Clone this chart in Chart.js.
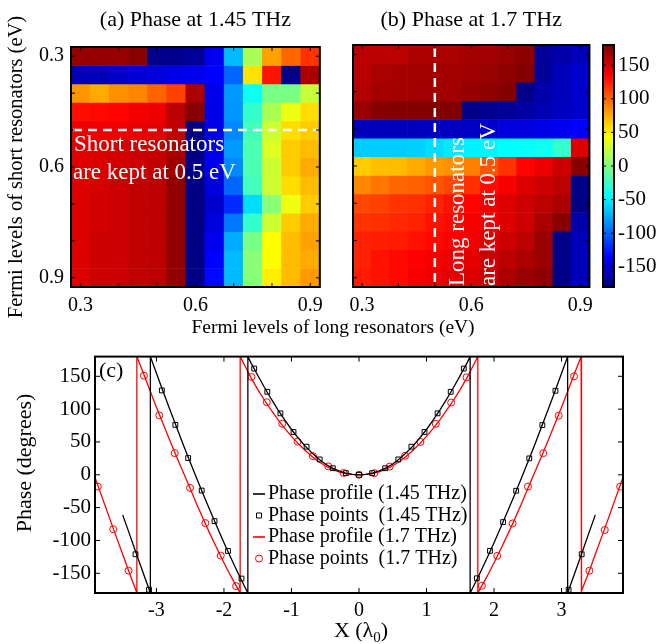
<!DOCTYPE html>
<html>
<head>
<meta charset="utf-8">
<script src="https://cdn.jsdelivr.net/npm/chart.js@4.4.1/dist/chart.umd.min.js"></script>
<style>
body{margin:0;background:#fff;width:662px;height:644px;position:relative;overflow:hidden;font-family:"Liberation Serif",serif}
canvas{position:absolute}
#xlab{position:absolute;left:33px;width:600px;top:316px;line-height:22px;text-align:center;font-size:19.5px;color:#000}
</style>
</head>
<body>
<canvas id="ca" width="330" height="320" style="left:0;top:0"></canvas>
<canvas id="cb" width="270" height="320" style="left:330px;top:0"></canvas>
<canvas id="cbar" width="64" height="320" style="left:598px;top:0"></canvas>
<canvas id="cc" width="662" height="304" style="left:0;top:340px"></canvas>
<div id="xlab">Fermi levels of long resonators (eV)</div>
<script>
// ---------- data ----------
// Fermi levels (eV), columns = long resonators, rows = short resonators
const eV = [0.3,0.35,0.4,0.45,0.5,0.55,0.6,0.65,0.7,0.75,0.8,0.85,0.9];
const eMarks = [0.3,0.4,0.5,0.6,0.7,0.8,0.9];
const eLabels = [0.3,0.6,0.9];

// phase (deg) at 1.45 THz, one row per short-resonator level
const phaseA = [
[172,172,172,176,-176,-175,-171,-141,-69,15,78,99,117],
[-160,-160,-155,-150,-148,-143,-141,-135,-99,55,128,-176,165],
[82,75,85,88,100,112,165,-142,-81,-40,-2,-2,25],
[130,132,134,139,141,159,177,-143,-82,-27,15,39,57],
[141,141,141,143,145,157,-178,-143,-87,-21,27,57,63],
[145,147,150,153,155,165,-178,-142,-81,-18,33,63,69],
[146,148,151,153,156,170,-178,-141,-87,-18,27,63,75],
[147,150,153,157,159,173,-178,-147,-99,-21,27,57,69],
[147,151,153,157,159,173,-178,-153,-120,-57,3,39,63],
[147,151,153,157,159,173,-178,-147,-93,-27,27,63,75],
[147,152,153,157,159,173,-178,-141,-75,-3,45,69,78],
[147,152,153,157,159,173,-178,-135,-69,3,45,69,75],
[147,152,153,157,159,173,-178,-133,-69,3,51,69,81]
];

// phase (deg) at 1.7 THz
const phaseB = [
[159,159,159,165,165,165,167,168,171,175,-171,-165,-159],
[160,165,166,167,167,167,169,171,175,179,-171,-159,-153],
[162,167,167,168,168,168,172,175,179,-177,-165,-159,-153],
[171,178,179,179,179,179,-177,-175,-172,-168,-163,-157,-153],
[-159,-159,-159,-159,-158,-157,-156,-153,-148,-147,-144,-141,-135],
[-63,-63,-63,-62,-57,-52,-50,-48,-45,-43,-40,-27,147],
[63,68,69,75,81,84,90,105,117,134,141,153,177],
[87,93,99,101,105,110,118,131,138,147,153,159,-177],
[110,112,117,118,123,129,134,141,147,153,159,165,-178],
[117,118,121,123,129,132,138,141,147,153,165,177,-165],
[123,124,126,129,132,135,139,147,153,159,171,-177,-159],
[123,129,132,135,138,141,144,153,159,165,171,-177,-159],
[126,129,132,137,141,144,147,153,165,171,175,-178,-159]
];

const cbarTicks = [-150,-100,-50,0,50,100,150];

// (c) phase profiles and sampled points, X in units of lambda0
const blackX = [-3.5,-3.4,-3.3,-3.2,-3.1,-3.09,-3.09,-3.0,-2.9,-2.8,-2.7,-2.6,-2.5,-2.4,-2.3,-2.2,-2.1,-2.0,-1.9,-1.8,-1.7,-1.646,-1.646,-1.6,-1.5,-1.4,-1.3,-1.2,-1.1,-1.0,-0.9,-0.8,-0.7,-0.6,-0.5,-0.4,-0.3,-0.2,-0.1,
0,0.1,0.2,0.3,0.4,0.5,0.6,0.7,0.8,0.9,1.0,1.1,1.2,1.3,1.4,1.5,1.6,1.646,1.646,1.7,1.8,1.9,2.0,2.1,2.2,2.3,2.4,2.5,2.6,2.7,2.8,2.9,3.0,3.09,3.09,3.1,3.2,3.3,3.4,3.5];
const blackY = [-61,-90,-119.5,-148.5,-177,-180,180,154.5,126.5,99,72,45,19,-6.5,-31.5,-56,-80,-103.5,-126,-148,-169,-180,180,170.5,151.5,133,115.5,99,83.5,69,56,44,33.5,24.5,16.5,10.6,6,2.7,0.6,
0,0.6,2.7,6,10.6,16.5,24.5,33.5,44,56,69,83.5,99,115.5,133,151.5,170.5,180,-180,-169,-148,-126,-103.5,-80,-56,-31.5,-6.5,19,45,72,99,126.5,154.5,180,-180,-177,-148.5,-119.5,-90,-61];

const blackPtX = [-3.31,-3.11,-2.92,-2.72,-2.53,-2.33,-2.14,-1.94,-1.74,-1.552,-1.358,-1.164,-0.97,-0.776,-0.582,-0.388,-0.194,0,
0.194,0.388,0.582,0.776,0.97,1.164,1.358,1.552,1.746,1.94,2.134,2.328,2.522,2.716,2.91,3.104,3.298];
const blackPtY = [-121,-175,128.5,76,25.5,-24,-70.5,-116,-158,161.8,126.4,93.6,65.2,42.8,23.4,10,2.5,0,
2.5,10,23.4,42.8,65.2,93.6,126.4,161.8,-157.6,-115.8,-72,-24.3,25,75.7,128,-175,-121];

const redX = [-3.91,-3.8,-3.7,-3.6,-3.5,-3.4,-3.3,-3.29,-3.29,-3.2,-3.1,-3.0,-2.9,-2.8,-2.7,-2.6,-2.5,-2.4,-2.3,-2.2,-2.1,-2.0,-1.9,-1.8,-1.76,-1.76,-1.7,-1.6,-1.5,-1.4,-1.3,-1.2,-1.1,-1.0,-0.9,-0.8,-0.7,-0.6,-0.5,-0.4,-0.3,-0.2,-0.1,
0,0.1,0.2,0.3,0.4,0.5,0.6,0.7,0.8,0.9,1.0,1.1,1.2,1.3,1.4,1.5,1.6,1.7,1.76,1.76,1.8,1.9,2.0,2.1,2.2,2.3,2.4,2.5,2.6,2.7,2.8,2.9,3.0,3.1,3.2,3.29,3.29,3.3,3.4,3.5,3.6,3.7,3.8,3.91];
const redY = [-4,-35.5,-64.5,-93,-121,-149.5,-177,-180,180,156.5,129.5,103,77.5,52,27,3,-21,-45.5,-69,-91.5,-113,-134,-154,-172.5,-180,180,168,148,130,113.5,98.4,84,70.7,58.5,47.5,37.5,28.3,20.3,13.7,8.5,4.6,2,0.5,
0,0.5,2,4.6,8.5,13.7,20.3,28.3,37.5,47.5,58.5,70.7,84,98.4,113.5,130,148,168,180,-180,-172.5,-154,-134,-113,-91.5,-69,-45.5,-21,3,27,52,77.5,103,129.5,156.5,180,-180,-177,-149.5,-121,-93,-64.5,-35.5,-4];

const redPtX = [-3.8675,-3.64,-3.4125,-3.185,-2.9575,-2.73,-2.5025,-2.275,-2.0475,-1.82,-1.5925,-1.365,-1.1375,-0.91,-0.6825,-0.455,-0.2275,0,
0.2275,0.455,0.6825,0.91,1.1375,1.365,1.5925,1.82,2.0475,2.275,2.5025,2.73,2.9575,3.185,3.4125,3.64,3.8675];
const redPtY = [-18,-83,-146,151,90.5,33,-20,-73.5,-123,-169.5,149,110.5,77.8,50.5,28.5,12.8,2.8,0,
2.5,12.5,29,50,77.6,110,148.4,-169,-123.3,-74,-18,33,90,150,-146,-84,-18];

const xTicksC = [-3,-2,-1,0,1,2,3];
const yTicksC = [-150,-100,-50,0,50,100,150];

// ---------- helpers ----------
const SERIF = '"Liberation Serif", "DejaVu Serif", serif';

function jet(v){
  let t = (v + 180) / 360;
  let c = k => Math.round(255 * Math.max(0, Math.min(1, 1.5 - Math.abs(4 * t - k))));
  return 'rgb(' + c(3) + ',' + c(2) + ',' + c(1) + ')';
}

function heatSets(vals){
  let half = (eV[1] - eV[0]) / 2;
  return vals.map((row, r) => ({
    data: row.map((v, c) => ({x: eV[c], y: [eV[r] - half, eV[r] + half]})),
    backgroundColor: row.map(jet),
    borderWidth: 0,
    barPercentage: 1,
    categoryPercentage: 1,
    grouped: false
  }));
}

function pairs(xs, ys){
  return xs.map((x, i) => ({x: x, y: ys[i]}));
}

function setTicks(list){
  return s => { s.ticks = list.map(v => ({value: v})); };
}

// frame + inward tick marks on all four sides
function drawBox(chart, lw, tl){
  let ctx = chart.ctx, a = chart.chartArea;
  ctx.save();
  ctx.strokeStyle = '#000';
  ctx.lineWidth = 1;
  ctx.beginPath();
  let xs = chart.scales.x, ys = chart.scales.y;
  if (xs && xs.options.display !== false){
    xs.ticks.forEach(t => {
      let p = xs.getPixelForValue(t.value);
      ctx.moveTo(p, a.bottom); ctx.lineTo(p, a.bottom - tl);
      ctx.moveTo(p, a.top); ctx.lineTo(p, a.top + tl);
    });
  }
  ys.ticks.forEach(t => {
    let p = ys.getPixelForValue(t.value);
    ctx.moveTo(a.left, p); ctx.lineTo(a.left + tl, p);
    ctx.moveTo(a.right, p); ctx.lineTo(a.right - tl, p);
  });
  ctx.stroke();
  ctx.lineWidth = lw;
  ctx.strokeRect(a.left, a.top, a.right - a.left, a.bottom - a.top);
  ctx.restore();
}

function heatOptions(top, right, yWidth, showY){
  let tickFont = {family: SERIF, size: 20};
  return {
    responsive: false,
    animation: false,
    layout: {padding: {left: 0, top: top, right: right, bottom: 0}},
    plugins: {legend: {display: false}, tooltip: {enabled: false}},
    scales: {
      x: {
        type: 'linear', min: 0.275, max: 0.925, offset: false,
        grid: {display: false, drawTicks: false}, border: {display: false},
        afterBuildTicks: setTicks(eMarks),
        afterFit: s => { s.height = 33; },
        ticks: {autoSkip: false, maxRotation: 0, padding: 7, color: '#000', font: tickFont,
          callback: v => eLabels.some(e => Math.abs(e - v) < 1e-6) ? v.toFixed(1) : ''}
      },
      y: {
        type: 'linear', reverse: true, min: 0.275, max: 0.925,
        grid: {display: false, drawTicks: false}, border: {display: false},
        afterBuildTicks: setTicks(eMarks),
        afterFit: s => { s.width = yWidth; },
        ticks: {display: showY, autoSkip: false, padding: 7, color: '#000', font: tickFont,
          callback: v => eLabels.some(e => Math.abs(e - v) < 1e-6) ? v.toFixed(1) : ''}
      }
    }
  };
}

// =====================
// (a) 1.45 THz
// =====================
new Chart(document.getElementById('ca'), {
  type: 'bar',
  data: {datasets: heatSets(phaseA)},
  options: heatOptions(47, 6, 71, true),
  plugins: [{
    id: 'decorA',
    afterDatasetsDraw(chart){
      let ctx = chart.ctx, a = chart.chartArea, y = chart.scales.y;
      ctx.save();
      ctx.strokeStyle = '#fff';
      ctx.lineWidth = 2.5;
      ctx.setLineDash([9, 6]);
      ctx.beginPath();
      ctx.moveTo(a.left + 2, y.getPixelForValue(0.5));
      ctx.lineTo(a.right - 2, y.getPixelForValue(0.5));
      ctx.stroke();
      ctx.setLineDash([]);
      ctx.fillStyle = '#fff';
      ctx.font = '23px ' + SERIF;
      ctx.fillText('Short resonators', 74, 151);
      ctx.fillText('are kept at 0.5 eV', 73, 179);
      ctx.restore();
    },
    afterDraw(chart){
      drawBox(chart, 2, 4);
      let ctx = chart.ctx, a = chart.chartArea;
      ctx.save();
      ctx.fillStyle = '#000';
      ctx.font = '22px ' + SERIF;
      ctx.textAlign = 'center';
      ctx.fillText('(a) Phase at 1.45 THz', (a.left + a.right) / 2, 26);
      ctx.translate(17, (a.top + a.bottom) / 2);
      ctx.rotate(-Math.PI / 2);
      ctx.font = '20.5px ' + SERIF;
      ctx.textBaseline = 'middle';
      ctx.fillText('Fermi levels of short resonators (eV)', 0, 0);
      ctx.restore();
    }
  }]
});

// =====================
// (b) 1.7 THz
// =====================
new Chart(document.getElementById('cb'), {
  type: 'bar',
  data: {datasets: heatSets(phaseB)},
  options: heatOptions(45, 4, 23, false),
  plugins: [{
    id: 'decorB',
    afterDatasetsDraw(chart){
      let ctx = chart.ctx, a = chart.chartArea, x = chart.scales.x;
      ctx.save();
      ctx.strokeStyle = '#fff';
      ctx.lineWidth = 2.5;
      ctx.setLineDash([9, 6]);
      ctx.beginPath();
      ctx.moveTo(x.getPixelForValue(0.5), a.top + 3);
      ctx.lineTo(x.getPixelForValue(0.5), a.bottom);
      ctx.stroke();
      ctx.setLineDash([]);
      ctx.fillStyle = '#fff';
      ctx.font = '23px ' + SERIF;
      ctx.translate(0, 286);
      ctx.rotate(-Math.PI / 2);
      ctx.fillText('Long resonators', 0, 464 - 330);
      ctx.fillText('are kept at 0.5 eV', 0, 495 - 330);
      ctx.restore();
    },
    afterDraw(chart){
      drawBox(chart, 2, 4);
      let ctx = chart.ctx, a = chart.chartArea;
      ctx.save();
      ctx.fillStyle = '#000';
      ctx.font = '22px ' + SERIF;
      ctx.textAlign = 'center';
      ctx.fillText('(b) Phase at 1.7 THz', (a.left + a.right) / 2, 26);
      ctx.restore();
    }
  }]
});

// =====================
// colour bar
// =====================
new Chart(document.getElementById('cbar'), {
  type: 'bar',
  data: {labels: [''], datasets: []},
  options: {
    responsive: false,
    animation: false,
    layout: {padding: {left: 5, top: 45, right: 0, bottom: 33}},
    plugins: {legend: {display: false}, tooltip: {enabled: false}},
    scales: {
      x: {display: false},
      y: {
        position: 'right', min: -180, max: 180,
        grid: {display: false, drawTicks: false}, border: {display: false},
        afterBuildTicks: setTicks(cbarTicks),
        afterFit: s => { s.width = 48; },
        ticks: {padding: 4, color: '#000', font: {family: SERIF, size: 21}}
      }
    }
  },
  plugins: [{
    id: 'jetbar',
    beforeDatasetsDraw(chart){
      let ctx = chart.ctx, a = chart.chartArea, y = chart.scales.y;
      let g = ctx.createLinearGradient(0, y.getPixelForValue(-180), 0, y.getPixelForValue(180));
      [-180,-135,-45,45,135,180].forEach(v => g.addColorStop((v + 180) / 360, jet(v)));
      ctx.fillStyle = g;
      ctx.fillRect(a.left, a.top, a.right - a.left, a.bottom - a.top);
    },
    afterDraw(chart){ drawBox(chart, 2, 3); }
  }]
});

// =====================
// (c) phase profiles
// =====================
new Chart(document.getElementById('cc'), {
  type: 'scatter',
  data: {
    datasets: [
      {data: pairs(blackX, blackY), showLine: true, borderColor: '#000', borderWidth: 1.3, pointRadius: 0},
      {data: pairs(blackPtX, blackPtY), showLine: false, pointStyle: 'rect', pointRadius: 3.4,
        borderColor: '#000', borderWidth: 1, backgroundColor: 'rgba(0,0,0,0)'},
      {data: pairs(redX, redY), showLine: true, borderColor: '#ff0000', borderWidth: 1.3, pointRadius: 0},
      {data: pairs(redPtX, redPtY), showLine: false, pointStyle: 'circle', pointRadius: 3.5,
        borderColor: '#ff0000', borderWidth: 1, backgroundColor: 'rgba(0,0,0,0)'}
    ]
  },
  options: {
    responsive: false,
    animation: false,
    layout: {padding: {left: 0, top: 13, right: 39, bottom: 0}},
    plugins: {legend: {display: false}, tooltip: {enabled: false}},
    scales: {
      x: {
        type: 'linear', min: -3.91, max: 3.91,
        grid: {display: false, drawTicks: false}, border: {display: false},
        afterBuildTicks: setTicks(xTicksC),
        afterFit: s => { s.height = 51; },
        ticks: {padding: 6, color: '#000', font: {family: SERIF, size: 20}}
      },
      y: {
        type: 'linear', min: -180, max: 180,
        grid: {display: false, drawTicks: false}, border: {display: false},
        afterBuildTicks: setTicks(yTicksC),
        afterFit: s => { s.width = 95; },
        ticks: {padding: 4, color: '#000', font: {family: SERIF, size: 21}}
      }
    }
  },
  plugins: [{
    id: 'decorC',
    afterDraw(chart){
      drawBox(chart, 2, 5);
      let ctx = chart.ctx, a = chart.chartArea;
      ctx.save();
      ctx.fillStyle = '#000';
      ctx.font = '22px ' + SERIF;
      ctx.fillText('(c)', a.left + 4, a.top + 20);

      // legend
      let rows = [
        {t: 'Phase profile (1.45 THz)', c: '#000', k: 'line'},
        {t: 'Phase points  (1.45 THz)', c: '#000', k: 'rect'},
        {t: 'Phase profile (1.7 THz)', c: '#ff0000', k: 'line'},
        {t: 'Phase points  (1.7 THz)', c: '#ff0000', k: 'circle'}
      ];
      ctx.font = '20px ' + SERIF;
      ctx.textBaseline = 'middle';
      rows.forEach((r, i) => {
        let y = 154 + i * 21.5;
        ctx.strokeStyle = r.c;
        ctx.lineWidth = r.k == 'line' ? 1.6 : 1;
        ctx.beginPath();
        if (r.k == 'line'){ ctx.moveTo(253, y); ctx.lineTo(265, y); }
        else if (r.k == 'rect'){ ctx.rect(256.5, y - 2.5, 5, 5); }
        else { ctx.arc(259, y, 3.5, 0, Math.PI * 2); }
        ctx.stroke();
        ctx.fillStyle = '#000';
        ctx.fillText(r.t, 268, y);
      });

      // axis titles
      ctx.textBaseline = 'alphabetic';
      ctx.font = '22px ' + SERIF;
      let w1 = ctx.measureText('X (λ').width;
      ctx.font = '15px ' + SERIF;
      let w2 = ctx.measureText('0').width;
      ctx.font = '22px ' + SERIF;
      let w3 = ctx.measureText(')').width;
      let x0 = (a.left + a.right) / 2 + 2 - (w1 + w2 + w3) / 2;
      ctx.fillText('X (λ', x0, 297);
      ctx.font = '15px ' + SERIF;
      ctx.fillText('0', x0 + w1, 302);
      ctx.font = '22px ' + SERIF;
      ctx.fillText(')', x0 + w1 + w2, 297);

      ctx.translate(25, 123);
      ctx.rotate(-Math.PI / 2);
      ctx.textAlign = 'center';
      ctx.textBaseline = 'middle';
      ctx.fillText('Phase (degrees)', 0, 0);
      ctx.restore();
    }
  }]
});
</script>
</body>
</html>
